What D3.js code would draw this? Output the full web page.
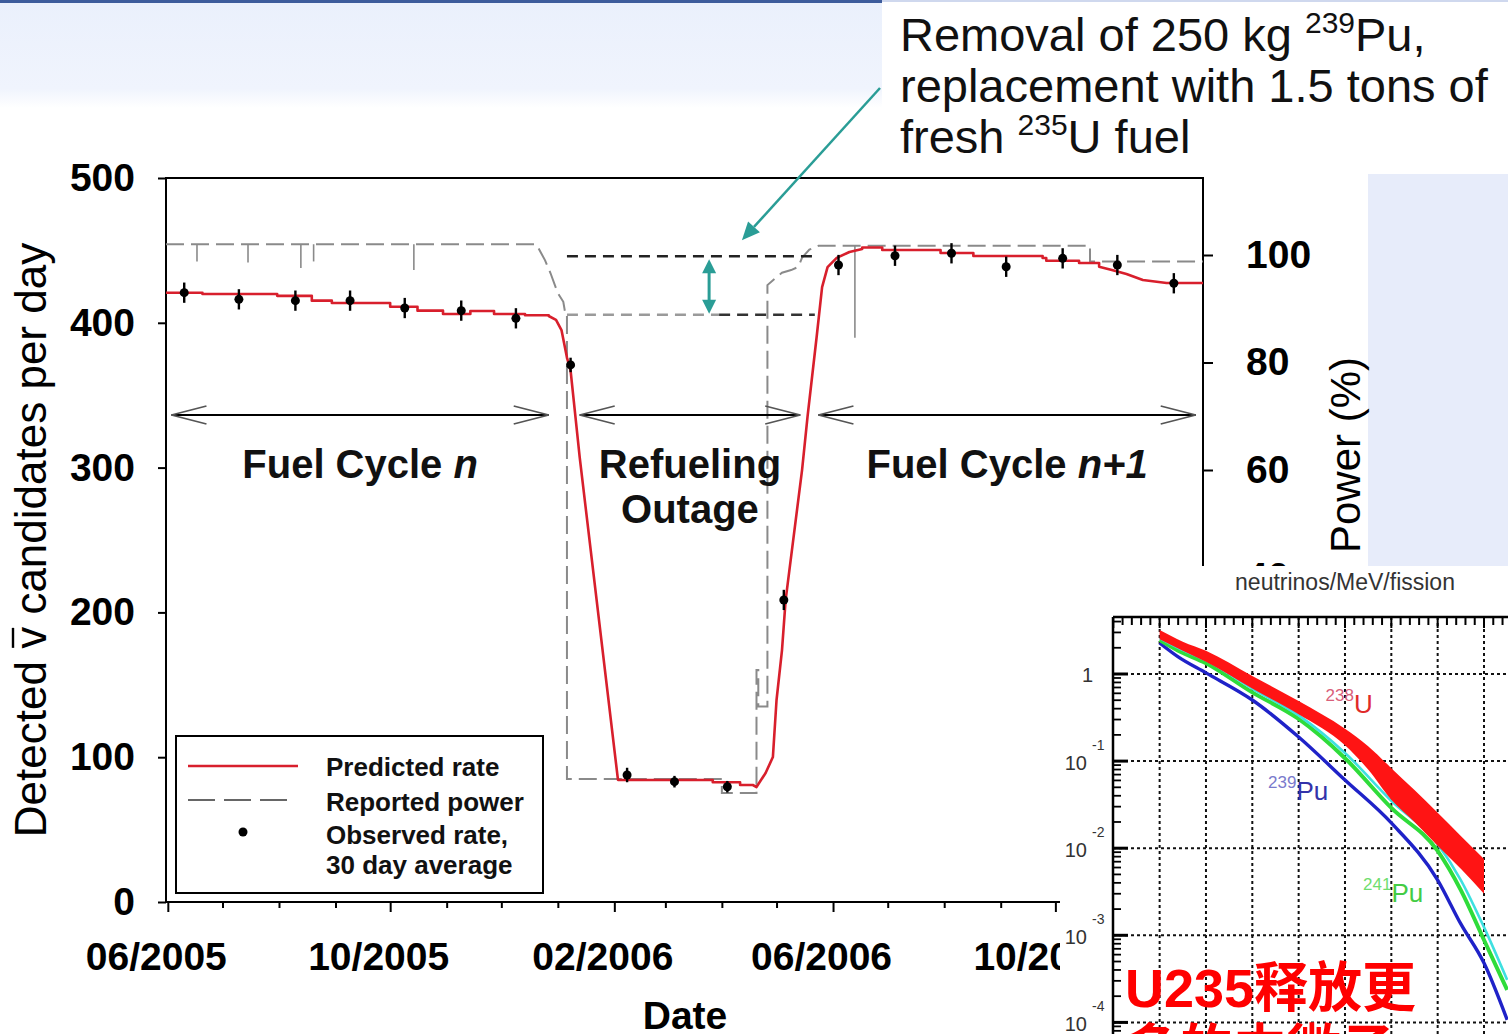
<!DOCTYPE html>
<html>
<head>
<meta charset="utf-8">
<script src="https://cdn.jsdelivr.net/npm/d3@7"></script>
<style>
  html, body { margin: 0; padding: 0; background: #fff; }
  svg { display: block; }
</style>
</head>
<body>
<svg id="chart" width="1508" height="1034"></svg>
<script>
// ---------- data ----------
// Predicted antineutrino rate (candidates/day), staircase through the refuelling outage
const predicted = [
  ["2005-05-31",420.8],["2005-06-20",420.8],["2005-06-20",419.9],["2005-07-31",419.9],["2005-07-31",418.6],
  ["2005-08-19",418.6],["2005-08-19",415.3],["2005-08-30",415.3],["2005-08-30",413.7],["2005-10-01",413.7],
  ["2005-10-01",411.1],["2005-10-16",411.1],["2005-10-16",408.4],["2005-10-30",408.4],["2005-10-30",406.1],
  ["2005-11-14",406.1],["2005-11-14",408.1],["2005-11-27",408.1],["2005-11-27",406.1],["2005-12-14",406.1],
  ["2005-12-14",405.2],["2005-12-27",405.2],["2005-12-27",404.7],["2005-12-31",402.0],["2006-01-03",395.0],
  ["2006-01-06",376.0],["2006-01-08",367.0],["2006-01-13",307.0],["2006-02-03",84.3],["2006-03-27",84.3],
  ["2006-03-27",82.7],["2006-04-11",82.7],["2006-04-11",80.8],["2006-04-18",80.8],["2006-04-20",79.4],
  ["2006-04-25",89.1],["2006-04-29",100.1],["2006-05-01",139.5],["2006-05-04",174.0],["2006-05-06",208.6],
  ["2006-05-15",298.3],["2006-05-18",335.0],["2006-05-23",390.2],["2006-05-26",424.7],["2006-05-29",438.5],
  ["2006-06-03",444.8],["2006-06-10",448.9],["2006-06-17",451.0],["2006-06-17",452.0],["2006-06-28",452.0],
  ["2006-06-28",450.3],["2006-07-30",450.3],["2006-07-30",448.2],["2006-08-17",448.2],["2006-08-17",446.1],
  ["2006-09-24",446.1],["2006-09-24",444.8],["2006-09-26",444.8],["2006-09-26",442.9],["2006-10-14",442.9],
  ["2006-10-14",441.3],["2006-10-25",441.3],["2006-10-25",438.7],["2006-11-01",436.5],["2006-11-09",433.7],
  ["2006-11-18",429.6],["2006-12-01",427.5],["2006-12-21",427.5]
];

// Observed rate, 30 day averages: [date, rate, error]
const observed = [
  ["2005-06-10",420.8,7],["2005-07-10",416.2,7],["2005-08-10",415.3,7],["2005-09-09",415.3,7],
  ["2005-10-09",410.2,7],["2005-11-09",408.4,7],["2005-12-09",403.1,7],["2006-01-08",370.9,5],
  ["2006-02-08",87.7,5],["2006-03-06",83.1,4],["2006-04-04",79.6,4],["2006-05-05",208.6,7],
  ["2006-06-04",439.9,7],["2006-07-05",446.3,7],["2006-08-05",448.0,7],["2006-09-04",438.7,7],
  ["2006-10-05",444.5,7],["2006-11-04",439.9,7],["2006-12-05",427.3,7]
];

// Reported thermal power (%)
const power = [
  ["2005-05-31",102],["2005-12-20",102],["2005-12-21",101.5],["2005-12-25",99.0],["2005-12-28",96.6],
  ["2006-01-01",92.9],["2006-01-04",91.3],["2006-01-05",89.3],["2006-01-06",89.3],["2006-01-06",2.5],
  ["2006-04-01",2.5],["2006-04-01",-0.1],["2006-04-20",-0.1],["2006-04-20",22.8],["2006-04-21",22.8],
  ["2006-04-21",16],["2006-04-26",16],["2006-04-26",94.4],["2006-05-01",95.9],["2006-05-04",96.7],
  ["2006-05-09",97.2],["2006-05-13",97.8],["2006-05-15",99.5],["2006-05-19",101],["2006-05-24",101.7],
  ["2006-10-20",101.7],["2006-10-20",98.8],["2006-12-21",98.8]
];
// Brief power reductions: [date, level before, lowest level]
const powerDips = [
  ["2005-06-17",102,98.8],["2005-07-15",102,98.6],["2005-08-13",102,97.6],["2005-08-20",102,98.8],
  ["2005-10-14",102,97.2],["2006-06-13",101.7,84.6]
];

const rateTicks = [0,100,200,300,400,500];
const powerTicks = [0,20,40,60,80,100];

const phases = [
  { start:"2005-06-03", end:"2005-12-27", lines:[[["Fuel Cycle ",false],["n",true]]] },
  { start:"2006-01-13", end:"2006-05-14", lines:[[["Refueling",false]],[["Outage",false]]] },
  { start:"2006-05-24", end:"2006-12-17", lines:[[["Fuel Cycle ",false],["n+1",true]]] }
];

// rate levels at end of cycle n / start of cycle n+1
const rateLevels = { before: 405.6, after: 446.0, from: "2006-01-06", to: "2006-05-22", marker: "2006-03-25" };
const pointerTip = { date: "2006-04-12", rate: 457 };

// Inset: antineutrino spectra (neutrinos/MeV/fission) vs energy (MeV)
const u238Energy = [2, 2.5, 3, 4, 5, 6, 6.5, 7, 7.5, 8, 8.5, 9];
const u238High   = [3.2, 2.35, 1.85, 0.95, 0.49, 0.235, 0.148, 0.083, 0.0465, 0.0255, 0.0138, 0.0075];
const u238Low    = [2.5, 1.85, 1.38, 0.68, 0.345, 0.152, 0.0800, 0.0360, 0.0200, 0.0107, 0.00580, 0.00300];
const specEnergy = [2, 2.4, 3, 4, 5, 6, 7, 8, 8.5, 9, 9.5];
const pu239      = [2.27, 1.57, 1.03, 0.503, 0.189, 0.0607, 0.0195, 0.00431, 0.00135, 0.00048, 0.000107];
const pu241      = [2.45, 1.85, 1.33, 0.615, 0.305, 0.108, 0.0290, 0.00930, 0.0033, 0.000883, 0.000236];
const u235       = [2.59, 2.00, 1.44, 0.680, 0.335, 0.124, 0.0350, 0.0112, 0.00431, 0.00124, 0.000307];
const decadeTicks = [1, 0.1, 0.01, 0.001, 0.0001];
const energyGrid = [2, 3, 4, 5, 6, 7, 8, 9];
const isotopeLabels = [
  { mass:"238", el:"U",  e:5.58, v:0.357,   main:"#e02a2a", sup:"#d9607a" },
  { mass:"239", el:"Pu", e:4.34, v:0.0357,  main:"#3333aa", sup:"#7a7acc" },
  { mass:"241", el:"Pu", e:6.39, v:0.00241, main:"#44cc44", sup:"#6edd6e" }
];

// ---------- setup ----------
const FONT = "'Liberation Sans', Arial, Helvetica, sans-serif";
const parse = d3.timeParse("%Y-%m-%d");
const svg = d3.select("#chart");
const W = 1508, H = 1034;
const defs = svg.append("defs");

svg.append("rect").attr("width", W).attr("height", H).attr("fill", "#fff");

// slide header band
const band = defs.append("linearGradient").attr("id", "band").attr("x1", 0).attr("y1", 0).attr("x2", 0).attr("y2", 1);
band.append("stop").attr("offset", "0").attr("stop-color", "#eaf0fc");
band.append("stop").attr("offset", "0.82").attr("stop-color", "#f0f4fd");
band.append("stop").attr("offset", "1").attr("stop-color", "#ffffff");
svg.append("rect").attr("x", 0).attr("y", 0).attr("width", 882).attr("height", 108).attr("fill", "url(#band)");
svg.append("rect").attr("x", 0).attr("y", 0).attr("width", 882).attr("height", 3).attr("fill", "#3d5c9c");
svg.append("rect").attr("x", 882).attr("y", 0).attr("width", 626).attr("height", 2).attr("fill", "#cfd8ee");
// side panel
svg.append("rect").attr("x", 1368).attr("y", 174).attr("width", 140).attr("height", 392).attr("fill", "#e7ecfa");

// ---------- main chart ----------
const x = d3.scaleTime().domain([parse("2005-05-31"), parse("2006-12-21")]).range([166, 1203]);
const yRate = d3.scaleLinear().domain([0, 500]).range([902, 178]);
const yPow = d3.scaleLinear().domain([0, 100]).range([792.5, 255]);

const main = svg.append("g");

// frame
main.append("rect").attr("x", 166).attr("y", 178).attr("width", 1037).attr("height", 724)
  .attr("fill", "none").attr("stroke", "#000").attr("stroke-width", 2);

// left axis
const gL = main.append("g").attr("transform", "translate(166,0)")
  .call(d3.axisLeft(yRate).tickValues(rateTicks).tickSize(8).tickPadding(23).tickFormat(d3.format("d")));
gL.select(".domain").remove();
gL.selectAll("line").attr("stroke", "#000").attr("stroke-width", 2);
gL.selectAll("text").attr("font-family", FONT).attr("font-size", 39).attr("font-weight", "bold").attr("fill", "#000");

// right axis (power)
const gR = main.append("g").attr("transform", "translate(1203,0)")
  .call(d3.axisRight(yPow).tickValues(powerTicks).tickSize(10).tickPadding(33).tickFormat(d3.format("d")));
gR.select(".domain").remove();
gR.selectAll("line").attr("stroke", "#000").attr("stroke-width", 2);
gR.selectAll("text").attr("font-family", FONT).attr("font-size", 39).attr("font-weight", "bold").attr("fill", "#000");

// bottom axis, monthly ticks
const months = d3.timeMonth.range(parse("2005-06-01"), parse("2006-12-02"));
const isMajor = d => d.getMonth() % 4 === 1;
const gB = main.append("g").attr("transform", "translate(0,902)")
  .call(d3.axisBottom(x).tickValues(months).tickSize(9).tickPadding(31)
    .tickFormat(d => isMajor(d) ? d3.timeFormat("%m/%Y")(d) : ""));
gB.select(".domain").remove();
gB.selectAll(".tick line").attr("stroke", "#000").attr("stroke-width", 2)
  .attr("y2", d => isMajor(d) ? 10 : 6);
gB.selectAll("text").attr("font-family", FONT).attr("font-size", 39).attr("font-weight", "bold")
  .attr("fill", "#000").attr("dx", -12);

// axis titles
const yTitleG = main.append("g").attr("transform", "translate(46,540) rotate(-90)");
const yTitle = yTitleG.append("text").attr("x", 0).attr("y", 0)
  .attr("text-anchor", "middle").attr("font-family", FONT).attr("font-size", 44).attr("fill", "#000");
yTitle.append("tspan").text("Detected ");
yTitle.append("tspan").text("v");
yTitle.append("tspan").text(" candidates per day");
// bar over the antineutrino symbol
{
  const node = yTitle.node();
  const i = "Detected ".length;
  const s = node.getStartPositionOfChar(i), e = node.getEndPositionOfChar(i);
  yTitleG.append("line").attr("x1", s.x + 1).attr("x2", e.x - 1).attr("y1", -33).attr("y2", -33)
    .attr("stroke", "#000").attr("stroke-width", 2.4);
}

main.append("text").attr("transform", "translate(1360,455) rotate(-90)")
  .attr("text-anchor", "middle").attr("font-family", FONT).attr("font-size", 42).attr("fill", "#000")
  .text("Power (%)");

main.append("text").attr("x", 685).attr("y", 1029).attr("text-anchor", "middle")
  .attr("font-family", FONT).attr("font-size", 39).attr("font-weight", "bold").text("Date");

// reported power
const powLine = d3.line().x(d => x(parse(d[0]))).y(d => yPow(d[1]));
main.append("path").datum(power).attr("d", powLine).attr("fill", "none")
  .attr("stroke", "#8a8a8a").attr("stroke-width", 2).attr("stroke-dasharray", "18,7");
main.selectAll(".dip").data(powerDips).join("line")
  .attr("x1", d => x(parse(d[0]))).attr("x2", d => x(parse(d[0])))
  .attr("y1", d => yPow(d[1])).attr("y2", d => yPow(d[2]))
  .attr("stroke", "#8a8a8a").attr("stroke-width", 1.6);

// rate levels before / after refuelling
const lvX0 = x(parse(rateLevels.from)), lvX1 = x(parse(rateLevels.to)), lvXm = x(parse(rateLevels.marker));
main.append("line").attr("x1", lvX0).attr("x2", lvX1)
  .attr("y1", yRate(rateLevels.after)).attr("y2", yRate(rateLevels.after))
  .attr("stroke", "#222").attr("stroke-width", 2.5).attr("stroke-dasharray", "11,7");
main.append("line").attr("x1", lvX0).attr("x2", lvXm + 10)
  .attr("y1", yRate(rateLevels.before)).attr("y2", yRate(rateLevels.before))
  .attr("stroke", "#9a9a9a").attr("stroke-width", 2.5).attr("stroke-dasharray", "11,7");
main.append("line").attr("x1", lvXm + 10).attr("x2", lvX1)
  .attr("y1", yRate(rateLevels.before)).attr("y2", yRate(rateLevels.before))
  .attr("stroke", "#333").attr("stroke-width", 2.5).attr("stroke-dasharray", "11,7");

// teal double arrow between the two levels
const TEAL = "#2a9d96";
const yTop = yRate(rateLevels.after), yBot = yRate(rateLevels.before);
main.append("line").attr("x1", lvXm).attr("x2", lvXm).attr("y1", yTop + 8).attr("y2", yBot - 8)
  .attr("stroke", TEAL).attr("stroke-width", 3);
main.append("path").attr("fill", TEAL)
  .attr("d", `M${lvXm},${yTop + 3} L${lvXm - 7},${yTop + 17} L${lvXm + 7},${yTop + 17} Z`);
main.append("path").attr("fill", TEAL)
  .attr("d", `M${lvXm},${yBot - 1} L${lvXm - 7},${yBot - 15} L${lvXm + 7},${yBot - 15} Z`);

// phase arrows and labels
const ARROW_Y = 415;
phases.forEach(p => {
  const a = x(parse(p.start)), b = x(parse(p.end));
  main.append("line").attr("x1", a).attr("x2", b).attr("y1", ARROW_Y).attr("y2", ARROW_Y)
    .attr("stroke", "#000").attr("stroke-width", 2);
  main.append("path").attr("fill", "none").attr("stroke", "#555").attr("stroke-width", 1.8)
    .attr("d", `M${a + 35},${ARROW_Y - 9} L${a},${ARROW_Y} L${a + 35},${ARROW_Y + 9}`);
  main.append("path").attr("fill", "none").attr("stroke", "#555").attr("stroke-width", 1.8)
    .attr("d", `M${b - 35},${ARROW_Y - 9} L${b},${ARROW_Y} L${b - 35},${ARROW_Y + 9}`);
  const cx = (a + b) / 2;
  p.lines.forEach((ln, i) => {
    const t = main.append("text").attr("x", cx).attr("y", 478 + i * 45).attr("text-anchor", "middle")
      .attr("font-family", FONT).attr("font-size", 40).attr("font-weight", "bold").attr("fill", "#111");
    ln.forEach(([s, it]) => t.append("tspan").text(s).attr("font-style", it ? "italic" : "normal"));
  });
});

// predicted rate
const rateLine = d3.line().x(d => x(parse(d[0]))).y(d => yRate(d[1]));
main.append("path").datum(predicted).attr("d", rateLine).attr("fill", "none")
  .attr("stroke", "#d81f2c").attr("stroke-width", 2.6).attr("stroke-linejoin", "round");

// observed rate with error bars
const obs = main.append("g");
obs.selectAll("line").data(observed).join("line")
  .attr("x1", d => x(parse(d[0]))).attr("x2", d => x(parse(d[0])))
  .attr("y1", d => yRate(d[1] + d[2])).attr("y2", d => yRate(d[1] - d[2]))
  .attr("stroke", "#000").attr("stroke-width", 2.4);
obs.selectAll("circle").data(observed).join("circle")
  .attr("cx", d => x(parse(d[0]))).attr("cy", d => yRate(d[1])).attr("r", 4.5).attr("fill", "#000");

// legend
const lg = main.append("g");
lg.append("rect").attr("x", 176).attr("y", 736).attr("width", 367).attr("height", 157)
  .attr("fill", "#fff").attr("stroke", "#000").attr("stroke-width", 2);
lg.append("line").attr("x1", 188).attr("x2", 298).attr("y1", 766).attr("y2", 766)
  .attr("stroke", "#d81f2c").attr("stroke-width", 2.6);
lg.append("line").attr("x1", 188).attr("x2", 290).attr("y1", 800).attr("y2", 800)
  .attr("stroke", "#666").attr("stroke-width", 2).attr("stroke-dasharray", "27,9");
lg.append("circle").attr("cx", 243).attr("cy", 832).attr("r", 4.5).attr("fill", "#000");
[["Predicted rate", 776], ["Reported power", 811], ["Observed rate,", 844], ["30 day average", 874]]
  .forEach(([s, y]) => lg.append("text").attr("x", 326).attr("y", y).attr("font-family", FONT)
    .attr("font-size", 26).attr("font-weight", "bold").attr("fill", "#111").text(s));

// annotation text and pointer
const ann = svg.append("g").attr("font-family", FONT).attr("fill", "#111");
const annLines = [
  [["Removal of 250 kg ", 0], ["239", 1], ["Pu,", 0]],
  [["replacement with 1.5 tons of", 0]],
  [["fresh ", 0], ["235", 1], ["U fuel", 0]]
];
annLines.forEach((ln, i) => {
  const t = ann.append("text").attr("x", 900).attr("y", 51 + i * 51).attr("font-size", 47);
  let raised = false;
  ln.forEach(([s, sup]) => {
    const ts = t.append("tspan").text(s);
    if (sup) { ts.attr("font-size", 30).attr("dy", -18); raised = true; }
    else if (raised) { ts.attr("dy", 18); raised = false; }
  });
});
const tipX = x(parse(pointerTip.date)), tipY = yRate(pointerTip.rate);
const tailX = 880, tailY = 88;
const ang = Math.atan2(tipY - tailY, tipX - tailX);
const hx = tipX - 18 * Math.cos(ang), hy = tipY - 18 * Math.sin(ang);
svg.append("line").attr("x1", tailX).attr("y1", tailY).attr("x2", hx).attr("y2", hy)
  .attr("stroke", TEAL).attr("stroke-width", 2.5);
const px = -Math.sin(ang), py = Math.cos(ang);
svg.append("path").attr("fill", TEAL)
  .attr("d", `M${tipX},${tipY} L${hx + 8 * px},${hy + 8 * py} L${hx - 8 * px},${hy - 8 * py} Z`);

// ---------- inset: fission spectra ----------
const inset = svg.append("g");
inset.append("rect").attr("x", 1060).attr("y", 566).attr("width", 448).attr("height", 468).attr("fill", "#fff");

const eX = d3.scaleLinear().domain([1, 9]).range([1113.3, 1484]);
const fY = d3.scaleLog().domain([1e-4, 1]).range([1022.4, 674]);
const L = 1113, T = 617;

defs.append("clipPath").attr("id", "insetClip")
  .append("rect").attr("x", L).attr("y", T).attr("width", W - L).attr("height", H - T);
const plot = inset.append("g").attr("clip-path", "url(#insetClip)");

// grid
plot.selectAll(".vg").data(energyGrid).join("line")
  .attr("x1", d => eX(d)).attr("x2", d => eX(d)).attr("y1", T).attr("y2", H)
  .attr("stroke", "#111").attr("stroke-width", 2).attr("stroke-dasharray", "3,3");
plot.selectAll(".hg").data(decadeTicks).join("line")
  .attr("x1", L).attr("x2", W).attr("y1", d => fY(d)).attr("y2", d => fY(d))
  .attr("stroke", "#111").attr("stroke-width", 2).attr("stroke-dasharray", "3,3");

// spectra
const specLine = vals => d3.line().curve(d3.curveMonotoneX)
  .x((d, i) => eX(specEnergy[i])).y(d => fY(d))(vals);
plot.append("path").attr("d", specLine(pu239)).attr("fill", "none").attr("stroke", "#1f22c8").attr("stroke-width", 3.4);
plot.append("path").attr("d", specLine(pu241)).attr("fill", "none").attr("stroke", "#2fdc3a").attr("stroke-width", 4);
plot.append("path").attr("d", specLine(u235)).attr("fill", "none").attr("stroke", "#3ee0e0").attr("stroke-width", 2.6);
const bandArea = d3.area().curve(d3.curveMonotoneX)
  .x((d, i) => eX(u238Energy[i])).y0((d, i) => fY(u238Low[i])).y1((d, i) => fY(u238High[i]));
plot.append("path").attr("d", bandArea(u238Energy)).attr("fill", "#ff1414");

// frame and ticks
inset.append("line").attr("x1", L).attr("x2", L).attr("y1", T).attr("y2", H).attr("stroke", "#000").attr("stroke-width", 2.5);
inset.append("line").attr("x1", L).attr("x2", W).attr("y1", T).attr("y2", T).attr("stroke", "#000").attr("stroke-width", 2.5);
const eTicks = d3.range(1, 9.9, 0.2);
inset.selectAll(".et").data(eTicks).join("line")
  .attr("x1", d => eX(d)).attr("x2", d => eX(d)).attr("y1", T)
  .attr("y2", d => Math.abs(d - Math.round(d)) < 1e-6 ? T + 11 : T + 8)
  .attr("stroke", "#000").attr("stroke-width", 2);
const logTicks = [];
[-5, -4, -3, -2, -1, 0].forEach(k => d3.range(1, 10).forEach(m => {
  const v = m * Math.pow(10, k);
  if (fY(v) > T + 1 && fY(v) < H) logTicks.push({ v, major: m === 1 });
}));
inset.selectAll(".lt").data(logTicks).join("line")
  .attr("x1", L).attr("x2", d => d.major ? L + 15 : L + 8)
  .attr("y1", d => fY(d.v)).attr("y2", d => fY(d.v))
  .attr("stroke", "#000").attr("stroke-width", d => d.major ? 3 : 1.8);

// decade labels
decadeTicks.forEach(v => {
  const y = fY(v);
  const k = Math.round(Math.log10(v));
  if (k === 0) {
    inset.append("text").attr("x", 1093).attr("y", y + 8).attr("text-anchor", "end")
      .attr("font-family", FONT).attr("font-size", 20).attr("fill", "#333").text("1");
  } else {
    inset.append("text").attr("x", 1087).attr("y", y + 9).attr("text-anchor", "end")
      .attr("font-family", FONT).attr("font-size", 20).attr("fill", "#333").text("10");
    inset.append("text").attr("x", 1092).attr("y", y - 11)
      .attr("font-family", FONT).attr("font-size", 14).attr("fill", "#333").text(String(k));
  }
});

inset.append("text").attr("x", 1345).attr("y", 590).attr("text-anchor", "middle")
  .attr("font-family", FONT).attr("font-size", 23).attr("fill", "#333").text("neutrinos/MeV/fission");

// isotope labels
isotopeLabels.forEach(d => {
  const t = inset.append("text").attr("x", eX(d.e)).attr("y", fY(d.v)).attr("font-family", FONT);
  t.append("tspan").text(d.mass).attr("font-size", 17).attr("fill", d.sup).attr("dy", -12);
  t.append("tspan").text(d.el).attr("font-size", 26).attr("fill", d.main).attr("dy", 12);
});

// headline in red
const cjk = "'Liberation Sans', 'Noto Sans CJK SC', sans-serif";
inset.append("text").attr("x", 1125).attr("y", 1007).attr("font-family", cjk).attr("font-size", 54)
  .attr("font-weight", "bold").attr("fill", "#ff0000").text("U235释放更");
inset.append("text").attr("x", 1125).attr("y", 1069).attr("font-family", cjk).attr("font-size", 54)
  .attr("font-weight", "bold").attr("fill", "#ff0000").text("多的中微子");
</script>
</body>
</html>
